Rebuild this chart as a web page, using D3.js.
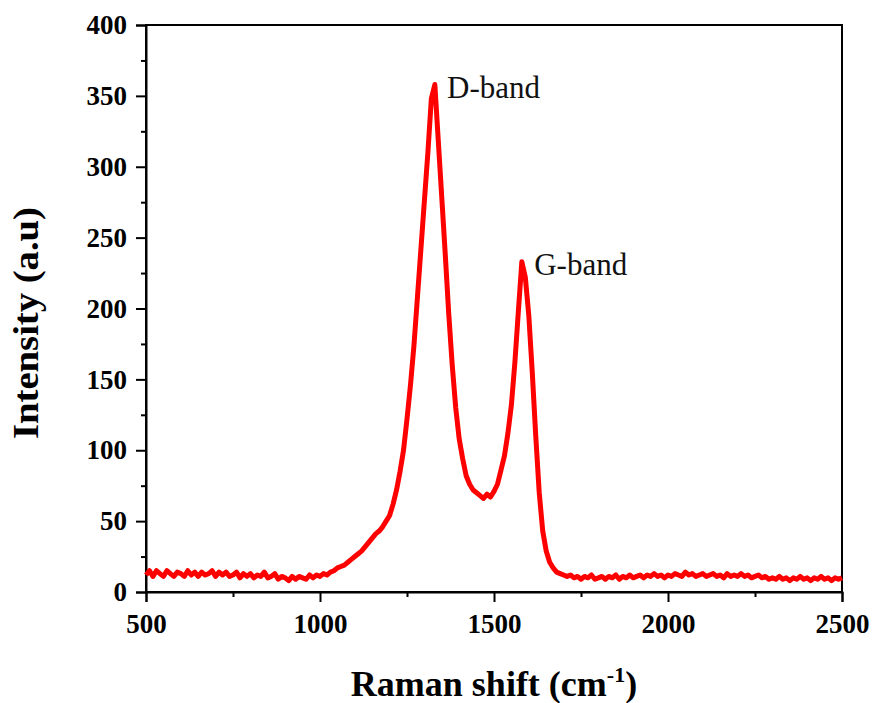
<!DOCTYPE html>
<html>
<head>
<meta charset="utf-8">
<script src="https://cdn.jsdelivr.net/npm/d3@7/dist/d3.min.js"></script>
<style>
  html, body { margin: 0; padding: 0; background: #fff; }
  svg { display: block; }
</style>
</head>
<body>
<div id="chart"></div>
<script>
// Raman spectrum sampled every 10 cm-1 from 500 to 2500 cm-1
const shiftStart = 500;
const shiftStep = 10;
const intensity = [
  12, 15, 11, 15, 13, 11, 15, 13, 11, 14,   // 500
  13, 11, 15, 12, 14, 11, 14, 12, 13, 15,   // 600
  11, 14, 12, 14, 11, 12, 14, 10, 13, 11,   // 700
  13, 10, 12, 11, 14, 10, 11, 13, 9, 11,    // 800
  10, 8, 11, 9, 11, 10, 9, 12, 10, 12,      // 900
  11, 13, 12, 14, 15, 17, 18, 19, 21, 23,   // 1000
  25, 27, 29, 32, 35, 38, 41, 43, 46, 50,   // 1100
  54, 62, 72, 85, 100, 122, 146, 174, 208, 242, // 1200
  276, 310, 348, 358, 318, 278, 238, 196, 160, 130, // 1300
  108, 94, 82, 76, 72, 70, 68, 66, 69, 67,  // 1400
  71, 76, 86, 96, 112, 132, 162, 198, 233, 222, // 1500
  195, 155, 110, 70, 43, 29, 21, 17, 14, 13, // 1600
  12, 11, 12, 10, 11, 9, 11, 10, 12, 9,     // 1700
  10, 11, 9, 11, 10, 12, 9, 11, 10, 12,     // 1800
  10, 11, 12, 10, 12, 11, 13, 11, 12, 10,   // 1900
  12, 11, 13, 12, 11, 14, 12, 13, 11, 12,   // 2000
  13, 11, 12, 13, 11, 12, 10, 13, 11, 12,   // 2100
  11, 13, 11, 12, 10, 11, 12, 10, 11, 9,    // 2200
  10, 9, 11, 9, 10, 8, 10, 9, 11, 9,        // 2300
  10, 8, 10, 9, 11, 9, 10, 8, 10, 9,        // 2400
  10                                        // 2500
];
const spectrum = intensity.map((v, i) => ({ shift: shiftStart + i * shiftStep, value: v }));

const xTicks = [500, 1000, 1500, 2000, 2500];
const xMinorTicks = [750, 1250, 1750, 2250];
const yTicks = [0, 50, 100, 150, 200, 250, 300, 350, 400];
const yMinorTicks = [25, 75, 125, 175, 225, 275, 325, 375];

const bandLabels = [
  { text: "D-band", shift: 1325, value: 358, dx: 14 },
  { text: "G-band", shift: 1581, value: 233, dx: 12 }
];

const W = 877, H = 703;
const margin = { left: 146, right: 35, top: 25, bottom: 111 };

const svg = d3.select("#chart").append("svg")
  .attr("width", W).attr("height", H);

svg.append("rect").attr("width", W).attr("height", H).attr("fill", "#fff");

const x = d3.scaleLinear().domain([500, 2500]).range([margin.left, W - margin.right]);
const y = d3.scaleLinear().domain([0, 400]).range([H - margin.bottom, margin.top]);

const serif = "'Liberation Serif', 'Times New Roman', serif";

// frame
svg.append("rect")
  .attr("x", x(500)).attr("y", y(400))
  .attr("width", x(2500) - x(500)).attr("height", y(0) - y(400))
  .attr("fill", "none").attr("stroke", "#000").attr("stroke-width", 2);

// bottom axis
svg.append("g").attr("transform", `translate(0,${y(0)})`)
  .call(d3.axisBottom(x).tickValues(xTicks).tickSize(10).tickPadding(12).tickFormat(d3.format("d")));
svg.append("g").attr("transform", `translate(0,${y(0)})`)
  .call(d3.axisBottom(x).tickValues(xMinorTicks).tickSize(5).tickFormat(""))
  .call(g => g.select(".domain").remove());

// left axis
svg.append("g").attr("transform", `translate(${x(500)},0)`)
  .call(d3.axisLeft(y).tickValues(yTicks).tickSize(10).tickPadding(9).tickFormat(d3.format("d")));
svg.append("g").attr("transform", `translate(${x(500)},0)`)
  .call(d3.axisLeft(y).tickValues(yMinorTicks).tickSize(5).tickFormat(""))
  .call(g => g.select(".domain").remove());

svg.selectAll(".domain").attr("stroke-width", 2);
svg.selectAll(".tick line").attr("stroke-width", 2);
svg.selectAll(".tick text")
  .attr("font-family", serif).attr("font-weight", "bold")
  .attr("font-size", 27).attr("fill", "#000");

// spectrum trace
const line = d3.line().x(d => x(d.shift)).y(d => y(d.value));
svg.append("path").datum(spectrum)
  .attr("d", line)
  .attr("fill", "none")
  .attr("stroke", "#ff0000")
  .attr("stroke-width", 5)
  .attr("stroke-linejoin", "round");

// band annotations
svg.selectAll(".band").data(bandLabels).enter().append("text")
  .attr("class", "band")
  .attr("x", d => x(d.shift) + d.dx)
  .attr("y", d => y(d.value) + 13)
  .attr("font-family", serif).attr("font-size", 31).attr("fill", "#111")
  .text(d => d.text);

// axis titles
const xTitle = svg.append("text")
  .attr("x", (x(500) + x(2500)) / 2).attr("y", 696)
  .attr("text-anchor", "middle")
  .attr("font-family", serif).attr("font-weight", "bold").attr("font-size", 36);
xTitle.append("tspan").text("Raman shift (cm");
xTitle.append("tspan").attr("font-size", 22).attr("dy", -14).text("-1");
xTitle.append("tspan").attr("dy", 14).text(")");

svg.append("text")
  .attr("transform", `translate(38,323) rotate(-90)`)
  .attr("text-anchor", "middle")
  .attr("font-family", serif).attr("font-weight", "bold").attr("font-size", 36)
  .attr("textLength", 232).attr("lengthAdjust", "spacingAndGlyphs")
  .text("Intensity (a.u)");
</script>
</body>
</html>
